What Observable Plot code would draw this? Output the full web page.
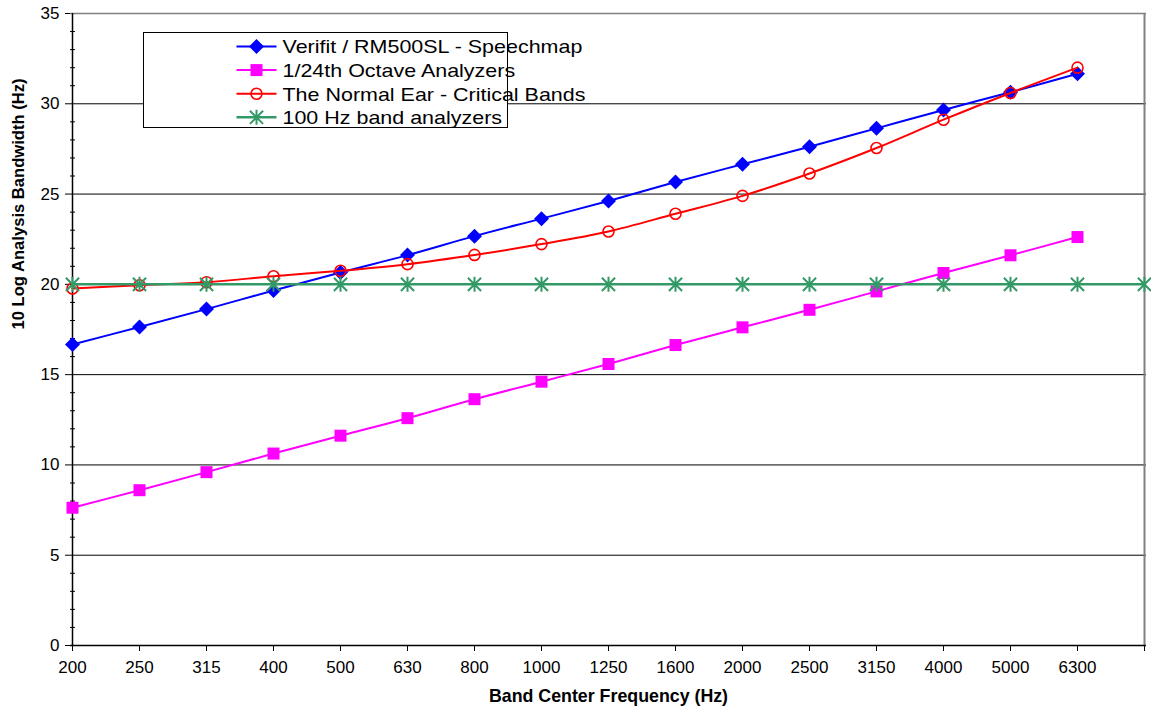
<!DOCTYPE html>
<html>
<head>
<meta charset="utf-8">
<script src="https://cdn.jsdelivr.net/npm/d3@7"></script>
<script src="https://cdn.jsdelivr.net/npm/@observablehq/plot@0.6"></script>
<style>
  html, body { margin: 0; padding: 0; background: #fff; }
  #chart { position: relative; width: 1151px; height: 716px; }
</style>
</head>
<body>
<div id="chart"></div>
<script>
// ---- data ----
const categories = ["200","250","315","400","500","630","800","1000","1250","1600","2000","2500","3150","4000","5000","6300",""];
const verifit = [16.67,17.64,18.63,19.66,20.66,21.62,22.67,23.64,24.62,25.67,26.65,27.62,28.64,29.66,30.64,31.66];
const octave24 = [7.63,8.60,9.60,10.63,11.62,12.59,13.64,14.61,15.59,16.64,17.62,18.59,19.61,20.63,21.61,22.62];
const criticalBands = [19.77,19.95,20.12,20.45,20.75,21.12,21.63,22.23,22.93,23.91,24.90,26.14,27.55,29.12,30.60,32.00];
const band100 = [20,20,20,20,20,20,20,20,20,20,20,20,20,20,20,20,20];
const seriesNames = ["Verifit / RM500SL - Speechmap","1/24th Octave Analyzers","The Normal Ear - Critical Bands","100 Hz band analyzers"];
const seriesColors = ["#0000FF","#FF00FF","#FF0000","#339966"];
const yTicks = [0,5,10,15,20,25,30,35];
const yMinor = d3.range(0,36).filter(v => v % 5 !== 0);

// ---- custom symbols ----
const diamond = { draw(ctx, size) { const r = Math.sqrt(size/Math.PI); ctx.moveTo(0,-r); ctx.lineTo(r,0); ctx.lineTo(0,r); ctx.lineTo(-r,0); ctx.closePath(); } };
const square = { draw(ctx, size) { const r = Math.sqrt(size/Math.PI); ctx.rect(-r,-r,2*r,2*r); } };
const star = { draw(ctx, size) { const r = Math.sqrt(size/Math.PI); const d = r*0.88;
  ctx.moveTo(0,-r); ctx.lineTo(0,r); ctx.moveTo(-d,-d); ctx.lineTo(d,d); ctx.moveTo(-d,d); ctx.lineTo(d,-d); } };
const circle = { draw(ctx, size) { const r = Math.sqrt(size/Math.PI); ctx.moveTo(r,0); ctx.arc(0,0,r,0,2*Math.PI); } };

const toRows = (vals, s) => vals.map((v,i) => ({cat: categories[i], value: v, series: s}));
const rowsV = toRows(verifit, 0);
const rowsO = toRows(octave24, 1);
const rowsC = toRows(criticalBands, 2);
const rowsB = toRows(band100, 3);

const plot = Plot.plot({
  width: 1151, height: 716,
  marginLeft: 70, marginRight: 5, marginTop: 13, marginBottom: 71,
  style: { fontFamily: "'Liberation Sans', Arial, sans-serif", fontSize: "17px", background: "#fff", color: "#000" },
  x: { type: "point", domain: categories, padding: 0 },
  y: { domain: [0, 35] },
  marks: [
    Plot.ruleY([5,10,15,20,25,30], { stroke: "#000", strokeWidth: 1 }),
    Plot.ruleY([35], { stroke: "#808080", strokeWidth: 1.5 }),
    Plot.ruleX([""], { stroke: "#808080", strokeWidth: 2 }),
    Plot.axisY({ ticks: yTicks, tickSize: 5, tickPadding: 6, label: null, fontSize: 17 }),
    Plot.axisY({ ticks: yMinor, tickSize: 5, dx: 5, tickFormat: () => "", label: null }),
    Plot.axisX({ tickSize: 6, tickPadding: 9, label: null, fontSize: 17 }),
    Plot.ruleX(["200"], { stroke: "#000", strokeWidth: 1.5 }),
    Plot.ruleY([0], { stroke: "#000", strokeWidth: 1.5 }),
    Plot.line(rowsV, { x: "cat", y: "value", stroke: seriesColors[0], strokeWidth: 2, curve: "catmull-rom" }),
    Plot.dot(rowsV, { x: "cat", y: "value", symbol: diamond, r: 7.5, fill: seriesColors[0], stroke: "none" }),
    Plot.line(rowsO, { x: "cat", y: "value", stroke: seriesColors[1], strokeWidth: 2, curve: "catmull-rom" }),
    Plot.dot(rowsO, { x: "cat", y: "value", symbol: square, r: 6, fill: seriesColors[1], stroke: "none" }),
    Plot.line(rowsC, { x: "cat", y: "value", stroke: seriesColors[2], strokeWidth: 2, curve: "catmull-rom" }),
    Plot.dot(rowsC, { x: "cat", y: "value", symbol: circle, r: 5.5, fill: "none", stroke: seriesColors[2], strokeWidth: 1.6 }),
    Plot.line(rowsB, { x: "cat", y: "value", stroke: seriesColors[3], strokeWidth: 2.5, curve: "catmull-rom" }),
    Plot.dot(rowsB, { x: "cat", y: "value", symbol: star, r: 7.5, fill: "none", stroke: seriesColors[3], strokeWidth: 2 }),
    Plot.text(["Band Center Frequency (Hz)"], { frameAnchor: "bottom", dy: 56, fontWeight: "bold", fontSize: 17.8 }),
    Plot.text(["10 Log Analysis Bandwidth (Hz)"], { frameAnchor: "left", dx: -52, rotate: -90, fontWeight: "bold", fontSize: 16.6 })
  ]
});
document.getElementById("chart").appendChild(plot);

// ---- legend ----
const svg = d3.select(plot);
const lg = svg.append("g").attr("transform", "translate(143.5,32.5)");
lg.append("rect").attr("width", 364).attr("height", 95).attr("fill", "#fff").attr("stroke", "#000").attr("stroke-width", 1);
const symbols = [diamond, square, circle, star];
const sizes = [7.5, 6, 5.5, 7.5];
seriesNames.forEach((name, i) => {
  const cy = 14 + i * 23.6;
  const g = lg.append("g").attr("transform", `translate(0,${cy})`);
  g.append("line").attr("x1", 93).attr("x2", 133).attr("stroke", seriesColors[i]).attr("stroke-width", i === 3 ? 2.5 : 2);
  const path = d3.symbol(symbols[i], Math.PI * sizes[i] * sizes[i])();
  const p = g.append("path").attr("d", path).attr("transform", "translate(113,0)");
  if (i < 2) p.attr("fill", seriesColors[i]);
  else p.attr("fill", "none").attr("stroke", seriesColors[i]).attr("stroke-width", i === 2 ? 1.6 : 2);
  g.append("text").attr("transform", "translate(139,0) scale(1.13,1)").attr("dy", "0.36em").attr("text-anchor", "start")
    .attr("font-size", 19).attr("font-family", "'Liberation Sans', Arial, sans-serif").attr("fill", "#000").text(name);
});
</script>
</body>
</html>
